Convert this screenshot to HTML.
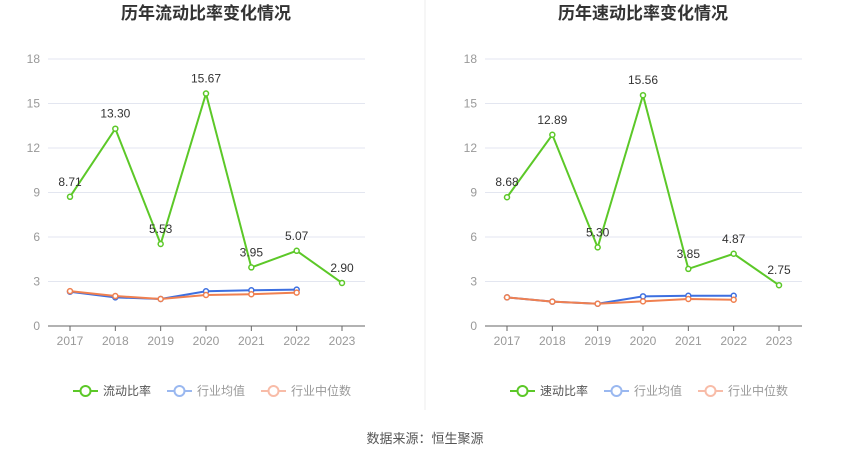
<!DOCTYPE html>
<html><head><meta charset="utf-8"><style>
body{margin:0;background:#fff;font-family:"Liberation Sans","Noto Sans CJK SC",sans-serif;}
svg text{font-family:"Liberation Sans","Noto Sans CJK SC",sans-serif;}
</style></head><body>
<svg id="svg" width="850" height="459" xmlns="http://www.w3.org/2000/svg">
<line x1="425" y1="0" x2="425" y2="410" stroke="#eee"/>
<text x="425" y="443" text-anchor="middle" font-size="13" fill="#555">数据来源：恒生聚源</text>
</svg>
<script>
const years=["2017","2018","2019","2020","2021","2022","2023"];
const yTicks=[0,3,6,9,12,15,18];
const leftMain=[8.71,13.30,5.53,15.67,3.95,5.07,2.90];
const leftAvg=[2.31,1.93,1.82,2.34,2.41,2.45];
const leftMed=[2.35,2.02,1.82,2.09,2.14,2.25];
const rightMain=[8.68,12.89,5.30,15.56,3.85,4.87,2.75];
const rightAvg=[1.93,1.64,1.50,2.00,2.04,2.04];
const rightMed=[1.93,1.64,1.50,1.66,1.82,1.77];
const svg=document.getElementById('svg');
const NS='http://www.w3.org/2000/svg';
function mk(tag,attrs,parent){const e=document.createElementNS(NS,tag);for(const k in attrs)e.setAttribute(k,attrs[k]);(parent||svg).appendChild(e);return e;}
function chart(ox,title,mainName,main,avg,med,prefix){
 const g=mk('g',{});
 
 
 const x0=ox+48,x1=ox+365,y0=326,y1=59;
 const xs=i=>ox+70+i*(272/6);
 const ys=v=>y0-(v/18)*(y0-y1);
 const t=mk('text',{x:ox+206,y:19,'text-anchor':'middle','font-size':17,'font-weight':'bold',fill:'#333'},g);t.textContent=title;
 
 
 yTicks.forEach(v=>{
  if(v>0){const l=mk('line',{x1:x0,x2:x1,y1:ys(v),y2:ys(v),stroke:'#e3e6f0'},g);
  
  }
  const tt=mk('text',{x:ox+40,y:ys(v)+4,'text-anchor':'end','font-size':12,fill:'#999'},g);tt.textContent=v;
  
  
 });
 const ax=mk('line',{x1:x0,x2:x1,y1:y0,y2:y0,stroke:'#666'},g);
 
 
 years.forEach((y,i)=>{
  const tk=mk('line',{x1:xs(i),x2:xs(i),y1:y0,y2:y0+5,stroke:'#666'},g);
  
  
  const tt=mk('text',{x:xs(i),y:y0+19,'text-anchor':'middle','font-size':12,fill:'#999'},g);tt.textContent=y;
  
  
 });
 function series(data,color,name,labels){
  const p=mk('polyline',{points:data.map((v,i)=>xs(i)+','+ys(v)).join(' '),fill:'none',stroke:color,'stroke-width':2},g);
  
  
  data.forEach((v,i)=>{
   const c=mk('circle',{cx:xs(i),cy:ys(v),r:2.5,fill:'#fff',stroke:color,'stroke-width':1.5},g);
   
   
   if(labels){const lt=mk('text',{x:xs(i),y:ys(v)-11,'text-anchor':'middle','font-size':12,fill:'#333'},g);lt.textContent=v.toFixed(2);
   
   }
  });
 }
 series(avg,'#3d6fe0','industry-avg',false);
 series(med,'#f08050','industry-median',false);
 series(main,'#5cc828','main',true);
 const leg=[[mainName,'#5cc828','#555'],['行业均值','#9ab8f0','#999'],['行业中位数','#f8bca8','#999']];
 let lx=ox+73;
 leg.forEach((L,k)=>{
  const lg=mk('g',{},g);
  
  
  mk('line',{x1:lx,x2:lx+25,y1:391,y2:391,stroke:L[1],'stroke-width':2},lg);
  mk('circle',{cx:lx+12.5,cy:391,r:5,fill:'#fff',stroke:L[1],'stroke-width':2},lg);
  const tt=mk('text',{x:lx+30,y:395,'font-size':12,fill:L[2]},lg);tt.textContent=L[0];
  lx+=30+L[0].length*12+16;
 });
}
chart(0,'历年流动比率变化情况','流动比率',leftMain,leftAvg,leftMed,'current-ratio');
chart(437,'历年速动比率变化情况','速动比率',rightMain,rightAvg,rightMed,'quick-ratio');
</script>
</body></html>
